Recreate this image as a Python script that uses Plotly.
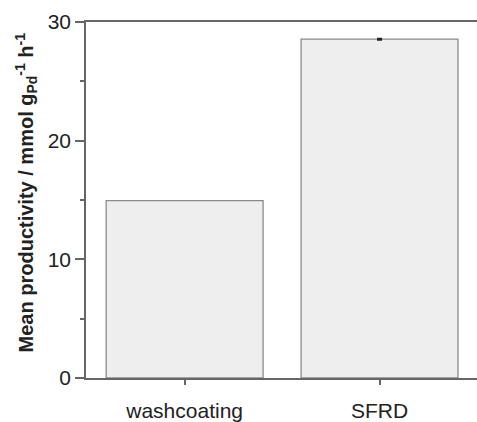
import plotly.graph_objects as go

categories = ["washcoating", "SFRD"]
productivity = [14.95, 28.55]
errors = [0.0, 0.06]

fig = go.Figure()
fig.add_trace(go.Bar(
    x=categories, y=productivity,
    width=0.805,
    marker=dict(color="#eeeeee", line=dict(color="#8a8a8a", width=1.3)),
    showlegend=False, hoverinfo="skip",
))
# error bars only where an error is non-zero
err_x = [c for c, e in zip(categories, errors) if e > 0]
err_y = [v for v, e in zip(productivity, errors) if e > 0]
err_e = [e for e in errors if e > 0]
fig.add_trace(go.Scatter(
    x=err_x, y=err_y, mode="markers",
    marker=dict(size=0.1, color="rgba(0,0,0,0)"),
    error_y=dict(type="data", array=err_e, visible=True, color="#222222", thickness=1.5, width=2.5),
    showlegend=False,
))

fig.update_layout(
    width=477, height=422,
    margin=dict(l=86, r=0, t=22, b=44, autoexpand=False),
    plot_bgcolor="white", paper_bgcolor="white",
    font=dict(family="Liberation Sans, Arial, sans-serif", color="#222222"),
)
fig.update_xaxes(
    range=[-0.506, 1.5], automargin=False,
    showline=True, linecolor="#666666", linewidth=1.5, mirror=True,
    ticks="outside", ticklen=5, tickwidth=1.5, tickcolor="#666666",
    tickfont=dict(size=21, color="#222222"),
    ticklabelstandoff=8,
    showgrid=False,
)
fig.update_yaxes(
    range=[0, 30], automargin=False,
    tickvals=[0, 10, 20, 30],
    showline=True, linecolor="#666666", linewidth=1.5, mirror=False,
    ticks="outside", ticklen=9, tickwidth=1.5, tickcolor="#666666",
    tickfont=dict(size=21, color="#222222"),
    minor=dict(tickvals=[5, 15, 25], ticks="outside", ticklen=4, tickwidth=1.5, tickcolor="#666666"),
    showgrid=False, zeroline=False,
)
fig.add_annotation(
    text="<b>Mean productivity / mmol g<sub>Pd</sub><sup>-1</sup> h<sup>-1</sup></b>",
    textangle=-90, xref="paper", yref="paper",
    x=-0.152, y=0.52, xanchor="center", yanchor="middle",
    showarrow=False, font=dict(size=20, color="#222222"),
)

fig.write_html("out.html", config={"displayModeBar": False},
               post_script="document.body.style.margin='0';")
